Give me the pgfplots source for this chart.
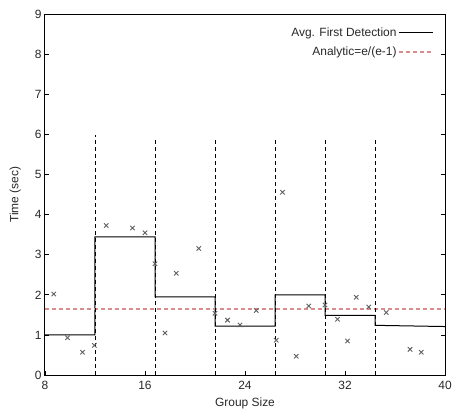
\documentclass[border=0pt]{standalone}
\usepackage{fontspec}
\setmainfont{Liberation Sans}
\usepackage{pgfplots}
\pgfplotsset{compat=1.18}

\definecolor{refline}{RGB}{218,140,140}
\definecolor{markgray}{RGB}{95,95,95}
\definecolor{txt}{RGB}{40,40,40}

\begin{document}
\begin{tikzpicture}
\begin{axis}[
    at={(0,0)}, anchor=south west,
    scale only axis,
    width=400bp, height=360.5bp,
    xmin=8, xmax=40, ymin=0, ymax=9,
    xtick={8,16,24,32,40},
    ytick={0,1,...,9},
    xtick pos=left, ytick pos=both,
    tick align=inside,
    major tick length=4bp,
    tick style={black, line width=0.8bp},
    axis line style={line width=1bp},
    /pgf/number format/assume math mode=true,
    tick label style={font=\fontsize{12}{14}\selectfont, text=txt},
    xticklabel style={yshift=-3bp},
    xlabel={Group Size},
    ylabel={Time (sec)},
    every axis x label/.style={at={(axis description cs:0.5,0)}, anchor=center,
        yshift=-28.5bp, font=\fontsize{12}{14}\selectfont, text=txt},
    every axis y label/.style={at={(axis description cs:0,0.5)}, anchor=center,
        xshift=-29.7bp, rotate=90, font=\fontsize{12}{14}\selectfont, text=txt},
    legend plot pos=right,
    legend cell align=right,
    legend style={at={(rel axis cs:1,1)}, anchor=north east, xshift=-8bp, yshift=-9bp,
        draw=none, fill=none, font=\fontsize{12}{14}\selectfont, text=txt,
        row sep=5bp},
    legend image code/.code={\draw[#1] (0bp,0bp) -- (34bp,0bp);},
]
% step line: average first detection per group
\addplot[black, line width=1bp] coordinates {
    (8,1.0) (12,1.0) (12,3.45) (16.8,3.45) (16.8,1.95) (21.6,1.95)
    (21.6,1.22) (26.4,1.22) (26.4,2.0) (30.4,2.0) (30.4,1.49) (34.4,1.49)
    (34.4,1.24) (40,1.21)
};
\addlegendentry{Avg. First Detection}

% analytic value
\addplot[refline, line width=1.3bp, dash pattern=on 4bp off 3bp] coordinates {(8,1.647) (40,1.647)};
\addlegendentry{Analytic=e/(e-1)}

% group boundaries
\addplot[forget plot, black, line width=0.8bp, dash pattern=on 4bp off 3bp] coordinates {(12,0) (12,6)};
\addplot[forget plot, black, line width=0.8bp, dash pattern=on 4bp off 3bp] coordinates {(16.8,0) (16.8,5.9)};
\addplot[forget plot, black, line width=0.8bp, dash pattern=on 4bp off 3bp] coordinates {(21.6,0) (21.6,5.9)};
\addplot[forget plot, black, line width=0.8bp, dash pattern=on 4bp off 3bp] coordinates {(26.4,0) (26.4,5.9)};
\addplot[forget plot, black, line width=0.8bp, dash pattern=on 4bp off 3bp] coordinates {(30.4,0) (30.4,5.9)};
\addplot[forget plot, black, line width=0.8bp, dash pattern=on 4bp off 3bp] coordinates {(34.4,0) (34.4,5.9)};

% individual measurements
\addplot[forget plot, only marks, mark=x, mark size=3.1bp, markgray, mark options={line width=0.9bp}] coordinates {
    (8.7,2.02) (9.8,0.93) (11.0,0.57) (11.95,0.74) (12.9,3.73) (15.0,3.67)
    (16.0,3.55) (16.8,2.78) (17.6,1.05) (18.5,2.54) (20.3,3.16) (21.6,1.54)
    (22.6,1.37) (23.6,1.25) (24.9,1.61) (26.5,0.87) (27.0,4.56) (28.1,0.47)
    (29.1,1.72) (30.4,1.75) (31.4,1.39) (32.2,0.85) (32.9,1.94) (33.9,1.70)
    (35.3,1.56) (37.2,0.64) (38.1,0.57)
};
\end{axis}
\pgfresetboundingbox
\path[use as bounding box] (-45bp,-44bp) rectangle (419bp,375bp);
\end{tikzpicture}
\end{document}
